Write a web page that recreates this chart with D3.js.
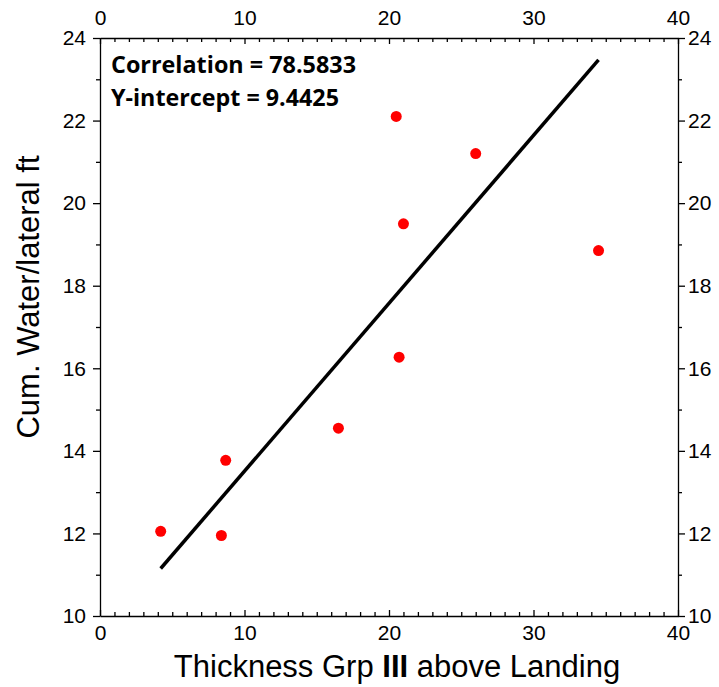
<!DOCTYPE html>
<html>
<head>
<meta charset="utf-8">
<script src="https://cdn.jsdelivr.net/npm/d3@7"></script>
<style>
  body { margin: 0; background: #fff; }
  svg text { font-family: "Liberation Sans", Arial, sans-serif; }
</style>
</head>
<body>
<svg id="chart" width="719" height="687"></svg>
<script>
// Thickness of Grp III above landing vs cumulative water per lateral foot
const thickness = [4.2, 8.4, 8.7, 16.5, 20.5, 20.7, 21.0, 26.0, 34.5];
const cumWater  = [12.05, 11.95, 13.77, 14.55, 22.1, 16.27, 19.5, 21.2, 18.85];
const xTicks = [0, 10, 20, 30, 40];
const yTicks = [10, 12, 14, 16, 18, 20, 22, 24];
const intercept = 9.4425;
const slope = 0.4066;
const fitRange = [4.2, 34.5];
const annotations = ["Correlation = 78.5833", "Y-intercept = 9.4425"];
const annotationWidths = [245, 228];

const svg = d3.select("#chart");
const m = { left: 100, right: 678, top: 38, bottom: 616 };

const x = d3.scaleLinear().domain([0, 40]).range([m.left, m.right]);
const y = d3.scaleLinear().domain([10, 24]).range([m.bottom, m.top]);

const minorX = d3.range(0, 41, 1).filter(v => v % 10 !== 0);
const minorY = d3.range(10, 25, 1).filter(v => v % 2 !== 0);
const tickFont = 21;

function styleAxis(g) {
  g.selectAll("path, line").attr("stroke", "#000").attr("stroke-width", 1.3);
  g.selectAll("text").attr("font-size", tickFont).attr("fill", "#000");
}

// Bottom axis: ticks point into the plot
svg.append("g").attr("transform", `translate(0,${m.bottom})`)
  .call(d3.axisBottom(x).tickValues(minorX).tickSize(-4).tickFormat("").tickSizeOuter(0))
  .call(g => g.select(".domain").remove())
  .call(styleAxis);
svg.append("g").attr("transform", `translate(0,${m.bottom})`)
  .call(d3.axisBottom(x).tickValues(xTicks).tickSize(-6).tickPadding(9).tickSizeOuter(0))
  .call(styleAxis);

// Top axis: ticks point into the plot
svg.append("g").attr("transform", `translate(0,${m.top})`)
  .call(d3.axisTop(x).tickValues(minorX).tickSize(-4).tickFormat("").tickSizeOuter(0))
  .call(g => g.select(".domain").remove())
  .call(styleAxis);
svg.append("g").attr("transform", `translate(0,${m.top})`)
  .call(d3.axisTop(x).tickValues(xTicks).tickSize(-6).tickPadding(13).tickSizeOuter(0))
  .call(styleAxis);

// Left axis: ticks point outward
svg.append("g").attr("transform", `translate(${m.left},0)`)
  .call(d3.axisLeft(y).tickValues(minorY).tickSize(4).tickFormat("").tickSizeOuter(0))
  .call(g => g.select(".domain").remove())
  .call(styleAxis);
svg.append("g").attr("transform", `translate(${m.left},0)`)
  .call(d3.axisLeft(y).tickValues(yTicks).tickSize(7).tickPadding(7).tickSizeOuter(0))
  .call(styleAxis);

// Right axis: ticks point outward
svg.append("g").attr("transform", `translate(${m.right},0)`)
  .call(d3.axisRight(y).tickValues(minorY).tickSize(4).tickFormat("").tickSizeOuter(0))
  .call(g => g.select(".domain").remove())
  .call(styleAxis);
svg.append("g").attr("transform", `translate(${m.right},0)`)
  .call(d3.axisRight(y).tickValues(yTicks).tickSize(7).tickPadding(3).tickSizeOuter(0))
  .call(styleAxis);

// Regression line
const fit = d3.line().x(d => x(d)).y(d => y(intercept + slope * d));
svg.append("path")
  .attr("d", fit(fitRange))
  .attr("fill", "none")
  .attr("stroke", "#000")
  .attr("stroke-width", 3.5);

// Data points
svg.append("g").selectAll("circle")
  .data(thickness.map((t, i) => [t, cumWater[i]]))
  .join("circle")
  .attr("cx", d => x(d[0]))
  .attr("cy", d => y(d[1]))
  .attr("r", 5.5)
  .attr("fill", "#ff0000");

// Annotation text
svg.append("g").selectAll("text")
  .data(annotations)
  .join("text")
  .attr("x", 111)
  .attr("y", (d, i) => 73 + i * 33)
  .attr("font-size", 23)
  .attr("font-weight", "bold")
  .attr("textLength", (d, i) => annotationWidths[i])
  .attr("lengthAdjust", "spacingAndGlyphs")
  .style("font-family", "'Open Sans', 'Noto Sans', sans-serif")
  .text(d => d);

// Axis titles
const xTitle = svg.append("text")
  .attr("x", 397)
  .attr("y", 677)
  .attr("text-anchor", "middle")
  .attr("font-size", 31);
xTitle.append("tspan").text("Thickness Grp ");
xTitle.append("tspan").attr("font-weight", "bold").text("III");
xTitle.append("tspan").text(" above Landing");

svg.append("text")
  .attr("transform", "translate(39,297) rotate(-90)")
  .attr("text-anchor", "middle")
  .attr("font-size", 31)
  .text("Cum. Water/lateral ft");
</script>
</body>
</html>
